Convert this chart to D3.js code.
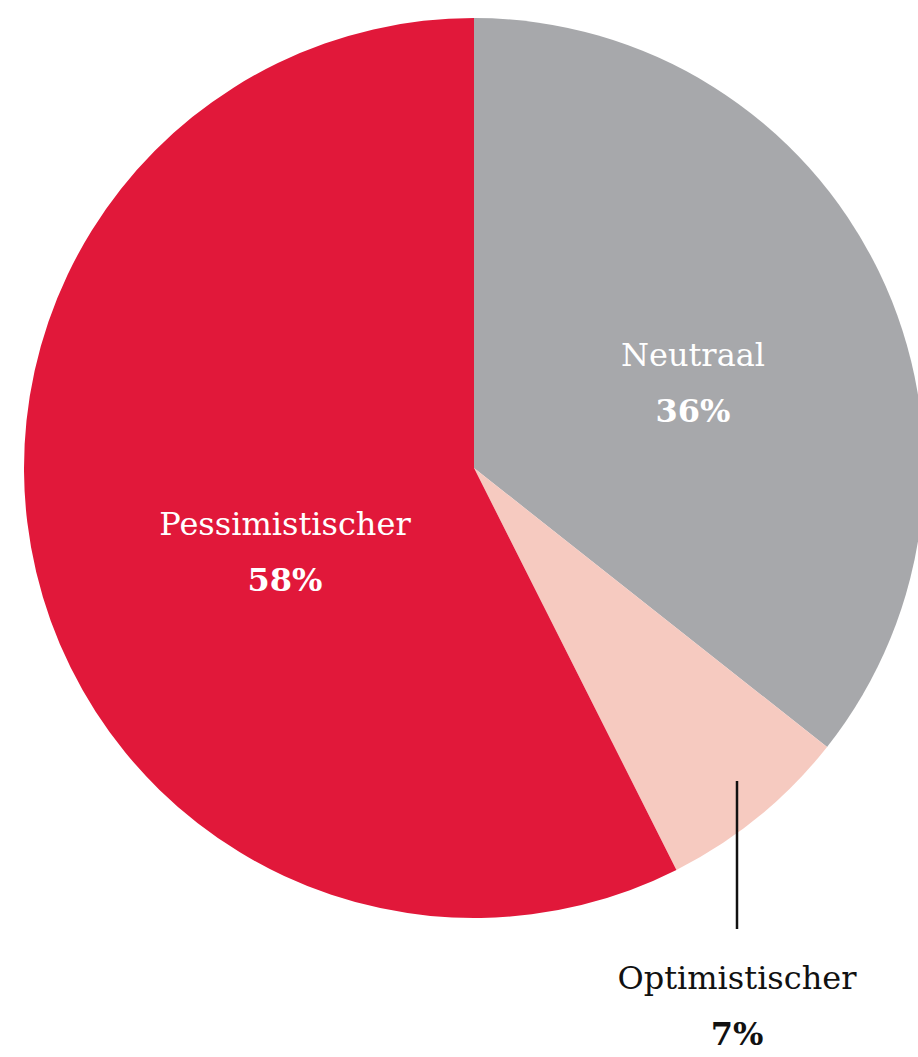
<!DOCTYPE html>
<html><head><meta charset="utf-8">
<script src="https://cdn.jsdelivr.net/npm/d3@7"></script>
<style>html,body{margin:0;padding:0;background:#fff;}svg{display:block;}</style>
</head><body>
<svg id="chart" width="918" height="1057"></svg>
<script>
const categories = ["Neutraal", "Optimistischer", "Pessimistischer"];
const values = [36, 7, 58];
const valueLabels = ["36%", "7%", "58%"];
const colors = ["#A7A8AB", "#F6CAC0", "#E1183A"];

// label layout (positions relative to pie centre), not data
const labelLayout = {
  "Neutraal": {x: 219, y: -102, fill: "#fff"},
  "Pessimistischer": {x: -189, y: 67, fill: "#fff"},
  "Optimistischer": {x: 263, y: 521, fill: "#111"}
};

const cx = 474, cy = 468, R = 450;
const svg = d3.select("#chart");
const g = svg.append("g").attr("transform", `translate(${cx},${cy})`);

const pie = d3.pie().sort(null).value(d => d.value);
const data = categories.map((c, i) => ({cat: c, value: values[i], label: valueLabels[i], color: colors[i]}));
const arcs = pie(data);
const arc = d3.arc().innerRadius(0).outerRadius(R);

g.selectAll("path").data(arcs).enter().append("path")
  .attr("d", arc).attr("fill", d => d.data.color);

// leader line for small slice
g.append("line")
  .attr("x1", 263).attr("x2", 263).attr("y1", 313).attr("y2", 461)
  .attr("stroke", "#111").attr("stroke-width", 2.5);

const lbl = g.selectAll("g.lbl").data(arcs).enter().append("g")
  .attr("transform", d => `translate(${labelLayout[d.data.cat].x},${labelLayout[d.data.cat].y})`);
lbl.append("text").attr("text-anchor", "middle")
  .attr("font-family", "DejaVu Serif").attr("font-size", 32)
  .attr("fill", d => labelLayout[d.data.cat].fill)
  .text(d => d.data.cat);
lbl.append("text").attr("text-anchor", "middle").attr("y", 56)
  .attr("font-family", "DejaVu Serif").attr("font-weight", "bold").attr("font-size", 32)
  .attr("fill", d => labelLayout[d.data.cat].fill)
  .text(d => d.data.label);
</script>
</body></html>
